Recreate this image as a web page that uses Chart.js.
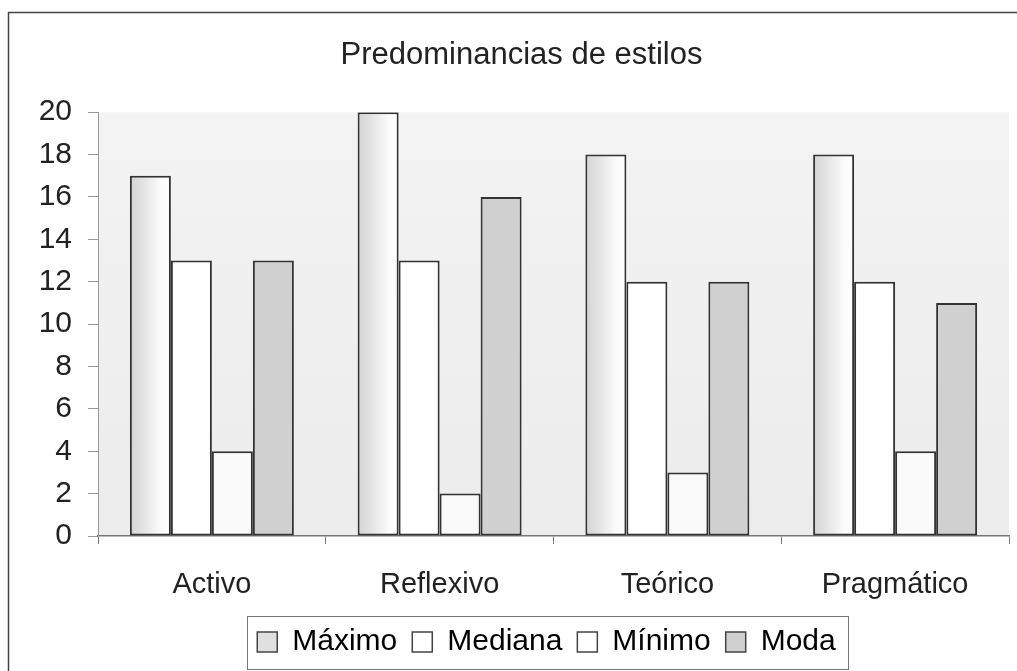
<!DOCTYPE html>
<html><head><meta charset="utf-8">
<script src="https://cdn.jsdelivr.net/npm/chart.js@4.4.1/dist/chart.umd.min.js"></script>
<style>html,body{margin:0;padding:0;background:#fff}#wrap{width:1017px;height:671px}</style>
</head><body><div id="wrap"><canvas id="c" width="1017" height="671"></canvas></div>
<script>
const categories = ['Activo', 'Reflexivo', 'Teórico', 'Pragmático'];
const seriesNames = ['Máximo', 'Mediana', 'Mínimo', 'Moda'];
const maximo = [17, 20, 18, 18];
const mediana = [13, 13, 12, 12];
const minimo = [4, 2, 3, 4];
const moda = [13, 16, 12, 11];
const yTicks = [0, 2, 4, 6, 8, 10, 12, 14, 16, 18, 20];

const FONT = "'Liberation Sans', Arial, sans-serif";
const CAT_PCT = 0.72;

function maxGradient(ctx) {
  const chart = ctx.chart;
  const xs = chart.scales.x;
  if (!xs || ctx.dataIndex === undefined) return '#e4e4e4';
  const center = xs.getPixelForValue(ctx.dataIndex);
  const catW = xs.width / categories.length;
  const groupW = catW * CAT_PCT;
  const barW = groupW / 4;
  const left = center - groupW / 2;
  const g = chart.ctx.createLinearGradient(left, 0, left + barW, 0);
  g.addColorStop(0, '#d4d4d4');
  g.addColorStop(0.3, '#e2e2e2');
  g.addColorStop(0.75, '#fbfbfb');
  g.addColorStop(1, '#ffffff');
  return g;
}

const frame = {
  id: 'frame',
  afterLayout(chart) {
    const L = chart.legend;
    if (L) { L.left += 38; L.right += 38; }
    const T = chart.titleBlock;
    if (T) { T.left += 13; T.right += 13; }
  },
  beforeDraw(chart) {
    const c = chart.ctx, a = chart.chartArea;
    c.save();
    c.fillStyle = '#ffffff';
    c.fillRect(0, 0, chart.width, chart.height);
    const bg = c.createLinearGradient(0, a.top, 0, a.bottom);
    bg.addColorStop(0, '#f3f3f3');
    bg.addColorStop(1, '#ececec');
    c.fillStyle = bg;
    c.fillRect(a.left, a.top, a.right - a.left, a.bottom - a.top);
    c.strokeStyle = '#444';
    c.lineWidth = 1.5;
    c.strokeRect(8.5, 12.5, 1030, 720);
    c.restore();
  },
  afterDraw(chart) {
    const c = chart.ctx;
    c.save();
    c.strokeStyle = '#777';
    c.lineWidth = 1;
    c.strokeRect(247.5, 616.5, 601, 53);
    c.restore();
  }
};

new Chart(document.getElementById('c'), {
  type: 'bar',
  data: {
    labels: categories,
    datasets: [
      { label: seriesNames[0], data: maximo, backgroundColor: maxGradient },
      { label: seriesNames[1], data: mediana, backgroundColor: '#ffffff' },
      { label: seriesNames[2], data: minimo, backgroundColor: '#fafafa' },
      { label: seriesNames[3], data: moda, backgroundColor: '#d0d0d0' }
    ]
  },
  options: {
    responsive: false,
    animation: false,
    devicePixelRatio: 1,
    layout: { padding: { left: 8, right: 8, top: 0, bottom: 4 } },
    datasets: { bar: { categoryPercentage: CAT_PCT, barPercentage: 1.0, borderColor: '#333', borderWidth: 2, borderSkipped: false } },
    plugins: {
      title: { display: true, text: 'Predominancias de estilos', color: '#222', font: { family: FONT, size: 31, weight: 'normal' }, padding: { top: 37, bottom: 38 } },
      legend: {
        position: 'bottom',
        labels: {
          color: '#222', font: { family: FONT, size: 30 }, boxWidth: 20, boxHeight: 20, padding: 15,
          generateLabels(chart) {
            const fills = ['#e0e0e0', '#ffffff', '#ffffff', '#d0d0d0'];
            return chart.data.datasets.map((d, i) => ({ text: d.label, fillStyle: fills[i], strokeStyle: '#444', lineWidth: 1.5, datasetIndex: i, hidden: false }));
          }
        }
      },
      tooltip: { enabled: false }
    },
    scales: {
      x: {
        grid: { display: true, drawOnChartArea: false, drawTicks: true, tickLength: 8, offset: true, color: '#777' },
        border: { display: true, color: '#777', width: 1.5 },
        ticks: { color: '#222', font: { family: FONT, size: 29 }, padding: 24 },
        afterFit(s) { s.height = 76; }
      },
      y: {
        min: 0, max: 20,
        afterBuildTicks(s) { s.ticks = yTicks.map(v => ({ value: v })); },
        grid: { display: true, drawOnChartArea: false, drawTicks: true, tickLength: 10, color: '#999' },
        border: { display: true, color: '#999', width: 1 },
        ticks: { color: '#222', font: { family: FONT, size: 30 }, padding: 16 },
        afterFit(s) { s.width = 90; }
      }
    }
  },
  plugins: [frame]
});
</script>
</body></html>
